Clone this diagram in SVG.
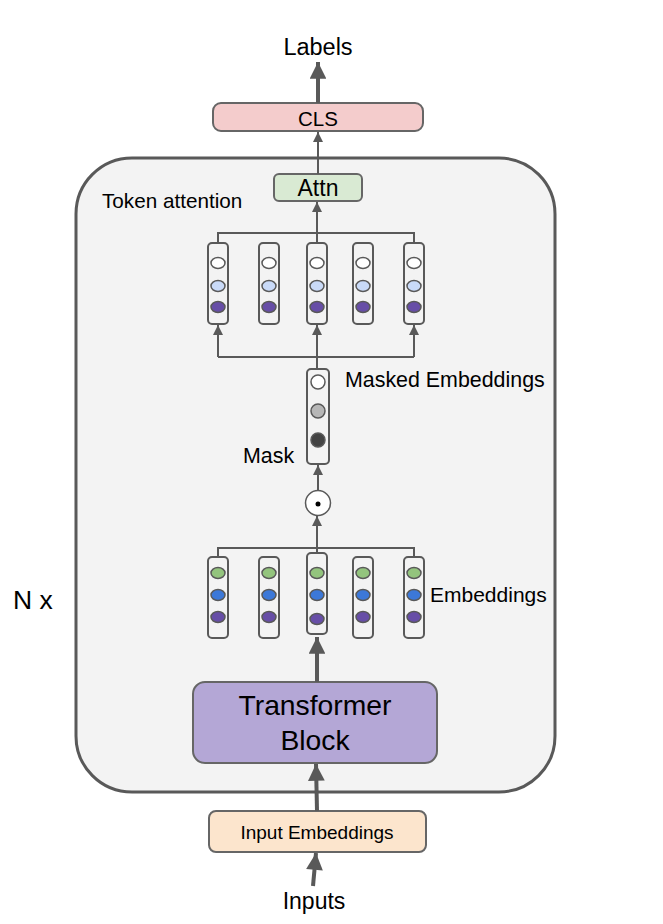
<svg xmlns="http://www.w3.org/2000/svg" width="663" height="924" viewBox="0 0 663 924">
<defs>
<style>
text{font-family:"Liberation Sans",Arial,sans-serif;fill:#000}
.box{stroke:#666;stroke-width:2}
.vec{fill:#f3f3f3;stroke:#595959;stroke-width:2}
.ln{stroke:#595959;stroke-width:2;fill:none}
.thick{stroke:#595959;stroke-width:4;fill:none}
.dot{stroke:#595959;stroke-width:1.5}
</style>
<marker id="ah" viewBox="0 0 10 10" refX="10" refY="5" markerWidth="5" markerHeight="5" markerUnits="strokeWidth" orient="auto">
<path d="M0,0L10,5L0,10z" fill="#595959"/>
</marker>
<marker id="ahb" viewBox="0 0 10 10" refX="10" refY="5" markerWidth="6" markerHeight="4.2" markerUnits="strokeWidth" orient="auto">
<path d="M0,0L10,5L0,10z" fill="#595959"/>
</marker>
</defs>
<rect width="663" height="924" fill="#fff"/>
<g id="outer">
<rect x="76" y="158" width="479" height="634" rx="56" fill="#f3f3f3" stroke="#595959" stroke-width="3"/>
<text x="102" y="208" font-size="20.7">Token attention</text>
</g>
<g id="nx"><text x="13" y="609" font-size="26.5">N x</text></g>
<g id="labels"><text x="318" y="55" font-size="23.5" text-anchor="middle">Labels</text></g>
<g id="cls"><rect class="box" x="213" y="103" width="210" height="28" rx="8" fill="#f4cccc"/><text x="318" y="126" font-size="20.5" text-anchor="middle">CLS</text></g>
<g id="attn"><rect class="box" x="274" y="174" width="88" height="27" rx="5" fill="#d9ead3"/><text x="318" y="196" font-size="23" text-anchor="middle">Attn</text></g>
<g id="top-vectors">
<rect class="vec" x="208" y="243" width="20" height="81" rx="4"/>
<rect class="vec" x="259" y="243" width="20" height="81" rx="4"/>
<rect class="vec" x="307" y="243" width="20" height="81" rx="4"/>
<rect class="vec" x="353" y="243" width="20" height="81" rx="4"/>
<rect class="vec" x="404" y="243" width="20" height="81" rx="4"/>
<g class="dot">
<ellipse cx="218" cy="263" rx="7" ry="5.5" fill="#fff"/><ellipse cx="218" cy="286" rx="7" ry="5.5" fill="#c9daf8"/><ellipse cx="218" cy="307" rx="7" ry="5.5" fill="#674ea7"/>
<ellipse cx="269" cy="263" rx="7" ry="5.5" fill="#fff"/><ellipse cx="269" cy="286" rx="7" ry="5.5" fill="#c9daf8"/><ellipse cx="269" cy="307" rx="7" ry="5.5" fill="#674ea7"/>
<ellipse cx="317" cy="263" rx="7" ry="5.5" fill="#fff"/><ellipse cx="317" cy="286" rx="7" ry="5.5" fill="#c9daf8"/><ellipse cx="317" cy="307" rx="7" ry="5.5" fill="#674ea7"/>
<ellipse cx="363" cy="263" rx="7" ry="5.5" fill="#fff"/><ellipse cx="363" cy="286" rx="7" ry="5.5" fill="#c9daf8"/><ellipse cx="363" cy="307" rx="7" ry="5.5" fill="#674ea7"/>
<ellipse cx="414" cy="263" rx="7" ry="5.5" fill="#fff"/><ellipse cx="414" cy="286" rx="7" ry="5.5" fill="#c9daf8"/><ellipse cx="414" cy="307" rx="7" ry="5.5" fill="#674ea7"/>
</g>
</g>
<g id="masked">
<rect class="vec" x="307" y="369" width="22" height="95" rx="4"/>
<g class="dot">
<circle cx="318" cy="382" r="7" fill="#fff"/><circle cx="318" cy="411" r="7" fill="#b7b7b7"/><circle cx="318" cy="440" r="7" fill="#434343"/>
</g>
<text x="345" y="387" font-size="21.4">Masked Embeddings</text>
<text x="243" y="463" font-size="21.4">Mask</text>
</g>
<g id="odot"><circle cx="318" cy="503" r="12.5" fill="#fff" stroke="#595959" stroke-width="1.5"/><circle cx="318" cy="504" r="2.5" fill="#000"/></g>
<g id="embeddings">
<rect class="vec" x="208" y="557" width="20" height="81" rx="4"/>
<rect class="vec" x="259" y="557" width="20" height="81" rx="4"/>
<rect class="vec" x="307" y="553" width="20" height="81" rx="4"/>
<rect class="vec" x="353" y="557" width="20" height="81" rx="4"/>
<rect class="vec" x="404" y="557" width="20" height="81" rx="4"/>
<g class="dot">
<ellipse cx="218" cy="573" rx="7" ry="5.5" fill="#93c47d"/><ellipse cx="218" cy="595" rx="7" ry="5.5" fill="#3c78d8"/><ellipse cx="218" cy="617" rx="7" ry="5.5" fill="#674ea7"/>
<ellipse cx="269" cy="573" rx="7" ry="5.5" fill="#93c47d"/><ellipse cx="269" cy="595" rx="7" ry="5.5" fill="#3c78d8"/><ellipse cx="269" cy="617" rx="7" ry="5.5" fill="#674ea7"/>
<ellipse cx="317" cy="573" rx="7" ry="5.5" fill="#93c47d"/><ellipse cx="317" cy="595" rx="7" ry="5.5" fill="#3c78d8"/><ellipse cx="317" cy="619" rx="7" ry="5.5" fill="#674ea7"/>
<ellipse cx="363" cy="573" rx="7" ry="5.5" fill="#93c47d"/><ellipse cx="363" cy="595" rx="7" ry="5.5" fill="#3c78d8"/><ellipse cx="363" cy="617" rx="7" ry="5.5" fill="#674ea7"/>
<ellipse cx="414" cy="573" rx="7" ry="5.5" fill="#93c47d"/><ellipse cx="414" cy="595" rx="7" ry="5.5" fill="#3c78d8"/><ellipse cx="414" cy="617" rx="7" ry="5.5" fill="#674ea7"/>
</g>
<text x="430" y="602" font-size="21">Embeddings</text>
</g>
<g id="transformer"><rect class="box" x="193" y="682" width="244" height="81" rx="12" fill="#b4a7d6"/><text x="315" y="715" font-size="28.3" text-anchor="middle">Transformer</text><text x="315" y="750" font-size="28.3" text-anchor="middle">Block</text></g>
<g id="input-emb"><rect class="box" x="209" y="811" width="217" height="41" rx="7" fill="#fce5cd"/><text x="317" y="839" font-size="19" text-anchor="middle">Input Embeddings</text></g>
<g id="inputs"><text x="314" y="909" font-size="23" text-anchor="middle">Inputs</text></g>
<g id="connectors">
<line class="thick" x1="318" y1="103" x2="318" y2="62" marker-end="url(#ahb)"/>
<line class="ln" x1="318" y1="174" x2="318" y2="132" marker-end="url(#ah)"/>
<polyline class="ln" points="218,243 218,233 414,233 414,243"/>
<line class="ln" x1="317" y1="243" x2="317" y2="202" marker-end="url(#ah)"/>
<polyline class="ln" points="218,357 414,357"/>
<line class="ln" x1="218" y1="357" x2="218" y2="325" marker-end="url(#ah)"/>
<line class="ln" x1="317" y1="369" x2="317" y2="325" marker-end="url(#ah)"/>
<line class="ln" x1="414" y1="357" x2="414" y2="325" marker-end="url(#ah)"/>
<line class="ln" x1="318" y1="490" x2="318" y2="465" marker-end="url(#ah)"/>
<polyline class="ln" points="218,557 218,548 414,548 414,557"/>
<line class="ln" x1="317" y1="553" x2="317" y2="516" marker-end="url(#ah)"/>
<line class="thick" x1="317" y1="682" x2="317" y2="637" marker-end="url(#ahb)"/>
<line class="thick" x1="317" y1="811" x2="316" y2="764" marker-end="url(#ahb)"/>
<line class="thick" x1="313" y1="886" x2="316" y2="853" marker-end="url(#ahb)"/>
</g>
</svg>
